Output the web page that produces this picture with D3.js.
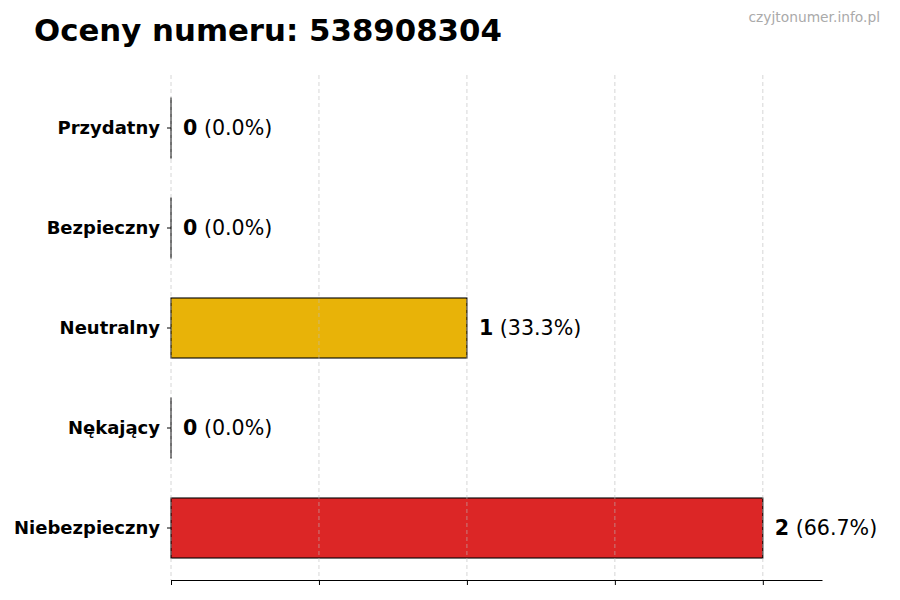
<!DOCTYPE html>
<html><head><meta charset="utf-8">
<script src="https://cdn.jsdelivr.net/npm/d3@7"></script>
<style>body{margin:0;background:#fff}svg{display:block}text{font-family:"DejaVu Sans",sans-serif}</style>
</head><body>
<svg id="c" width="900" height="600"></svg>
<script>
const categories = ["Przydatny","Bezpieczny","Neutralny","Nękający","Niebezpieczny"];
const counts = [0,0,1,0,2];
const percents = ["0.0%","0.0%","33.3%","0.0%","66.7%"];
const colors = ["#16a34a","#2563eb","#e8b308","#9333ea","#dc2626"];
const xTicks = [0,0.5,1,1.5,2];

const svg = d3.select("#c");
const x = d3.scaleLinear().domain([0,2.2]).range([171,822]);
const y = d3.scaleBand().domain(categories).range([78,578]).paddingInner(0.4).paddingOuter(0.2);

svg.append("text").attr("x",34).attr("y",41).attr("font-size",30.8).attr("font-weight","bold").text("Oceny numeru: 538908304");
svg.append("text").attr("x",880).attr("y",22).attr("font-size",13.8).attr("fill","#aaaaaa").attr("text-anchor","end").text("czyjtonumer.info.pl");

svg.selectAll("rect.bar").data(categories).enter().append("rect")
  .attr("x",x(0)).attr("y",d=>y(d))
  .attr("width",(d,i)=>Math.max(x(counts[i])-x(0),0.01)).attr("height",y.bandwidth())
  .attr("fill",(d,i)=>colors[i]).attr("stroke","#000").attr("stroke-width",1.1);

// grid
svg.selectAll("line.grid").data(xTicks).enter().append("line")
  .attr("x1",d=>x(d)).attr("x2",d=>x(d)).attr("y1",75).attr("y2",580)
  .attr("stroke","#bbbbbb").attr("stroke-opacity",0.6).attr("stroke-dasharray","4,3").attr("stroke-width",1);

const xa = svg.append("g").attr("transform","translate(0,580)")
  .call(d3.axisBottom(x).tickValues(xTicks).tickFormat("").tickSize(5).tickSizeOuter(0));
xa.select(".domain").attr("stroke","#000");
xa.selectAll(".tick line").attr("stroke","#000");

const ya = svg.append("g").attr("transform","translate(171,0)")
  .call(d3.axisLeft(y).tickSize(4).tickPadding(7));
ya.select(".domain").remove();
ya.selectAll(".tick line").attr("stroke","#000");
ya.selectAll(".tick text").attr("font-size",18).attr("font-weight","bold").attr("fill","#000").attr("font-family","DejaVu Sans");

const lab = svg.selectAll("text.val").data(categories).enter().append("text")
  .attr("x",(d,i)=>x(counts[i])+12).attr("y",d=>y(d)+y.bandwidth()/2).attr("dy","0.35em").attr("font-size",20.6);
lab.append("tspan").attr("font-weight","bold").text((d,i)=>counts[i]);
lab.append("tspan").text((d,i)=>" ("+percents[i]+")");
</script>
</body></html>
